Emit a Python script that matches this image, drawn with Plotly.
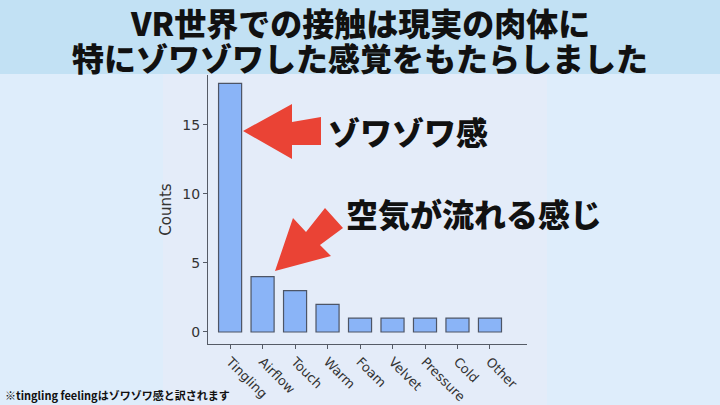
import plotly.graph_objects as go

# ---- data ----
categories = ["Tingling", "Airflow", "Touch", "Warm", "Foam", "Velvet", "Pressure", "Cold", "Other"]
counts = [18, 4, 3, 2, 1, 1, 1, 1, 1]
y_ticks = [0, 5, 10, 15]

title_line1 = "VR世界での接触は現実の肉体に"
title_line2 = "特にゾワゾワした感覚をもたらしました"
label_tingling = "ゾワゾワ感"
label_airflow = "空気が流れる感じ"
footnote = "※tingling feelingはゾワゾワ感と訳されます"

W, H = 720, 405


def px(x):
    return x / W


def py(y):
    return 1 - y / H


def poly(points):
    s = "M " + " L ".join(f"{px(x):.5f},{py(y):.5f}" for x, y in points) + " Z"
    return s


JP = "Noto Sans CJK JP"
AX = "DejaVu Sans"

fig = go.Figure()
fig.add_trace(go.Bar(
    x=categories, y=counts, width=0.71,
    marker=dict(color="#8ab4f7", line=dict(color="#4d5566", width=1.2)),
    showlegend=False, hoverinfo="skip",
))

shapes = [
    # title band
    dict(type="rect", xref="paper", yref="paper", x0=0, x1=1, y0=py(74), y1=1,
         fillcolor="#c2e1f4", line=dict(width=0), layer="below"),
    # chart image panel
    dict(type="rect", xref="paper", yref="paper", x0=px(163), x1=px(547), y0=0, y1=py(74),
         fillcolor="#e4ecf9", line=dict(width=0), layer="below"),
    # arrow 1 (left-pointing)
    dict(type="path", xref="paper", yref="paper",
         path=poly([(243, 131), (292, 104), (292, 122), (321, 117), (321, 145), (292, 145), (292, 159)]),
         fillcolor="#ea4335", line=dict(width=0), layer="above"),
    # arrow 2 (down-left pointing)
    dict(type="path", xref="paper", yref="paper",
         path=poly([(275, 271), (293, 218), (306, 232), (325, 208), (343, 228), (320, 245), (331, 256)]),
         fillcolor="#ea4335", line=dict(width=0), layer="above"),
]

annotations = [
    dict(text=title_line1, x=px(360), y=py(22), xref="paper", yref="paper", showarrow=False,
         xanchor="center", yanchor="middle",
         font=dict(family=JP, size=32, color="#111111", weight=900)),
    dict(text=title_line2, x=px(360), y=py(57), xref="paper", yref="paper", showarrow=False,
         xanchor="center", yanchor="middle",
         font=dict(family=JP, size=32, color="#111111", weight=900)),
    dict(text=label_tingling, x=px(326), y=py(131), xref="paper", yref="paper", showarrow=False,
         xanchor="left", yanchor="middle",
         font=dict(family=JP, size=32, color="#111111", weight=900)),
    dict(text=label_airflow, x=px(344), y=py(213), xref="paper", yref="paper", showarrow=False,
         xanchor="left", yanchor="middle",
         font=dict(family=JP, size=32, color="#111111", weight=900)),
    dict(text=footnote, x=px(3), y=py(395), xref="paper", yref="paper", showarrow=False,
         xanchor="left", yanchor="middle",
         font=dict(family=JP, size=11, color="#111111", weight=700)),
]

fig.update_layout(
    width=W, height=H,
    margin=dict(l=0, r=0, t=0, b=0, autoexpand=False),
    paper_bgcolor="#deedfb",
    plot_bgcolor="rgba(0,0,0,0)",
    shapes=shapes,
    annotations=annotations,
    xaxis=dict(
        domain=[px(208), px(527)],
        range=[-0.68, 9.14],
        automargin=False,
        showline=True, linecolor="#555b66", linewidth=1.3,
        ticks="outside", ticklen=4, tickcolor="#555b66", tickwidth=1.2,
        tickangle=45,
        tickfont=dict(family=AX, size=13, color="#333333"),
        showgrid=False, zeroline=False, fixedrange=True,
    ),
    yaxis=dict(
        domain=[py(344), py(75)],
        range=[-0.87, 18.6],
        automargin=False,
        tickvals=y_ticks,
        showline=True, linecolor="#555b66", linewidth=1.3,
        ticks="outside", ticklen=4, tickcolor="#555b66", tickwidth=1.2,
        tickfont=dict(family=AX, size=14, color="#333333"),
        title=dict(text="Counts", font=dict(family=AX, size=15, color="#333333"), standoff=6),
        showgrid=False, zeroline=False, fixedrange=True,
    ),
)

fig.write_html(
    "out.html",
    config={"displayModeBar": False},
    post_script="document.body.style.margin='0';document.body.style.background='#deedfb';",
)
